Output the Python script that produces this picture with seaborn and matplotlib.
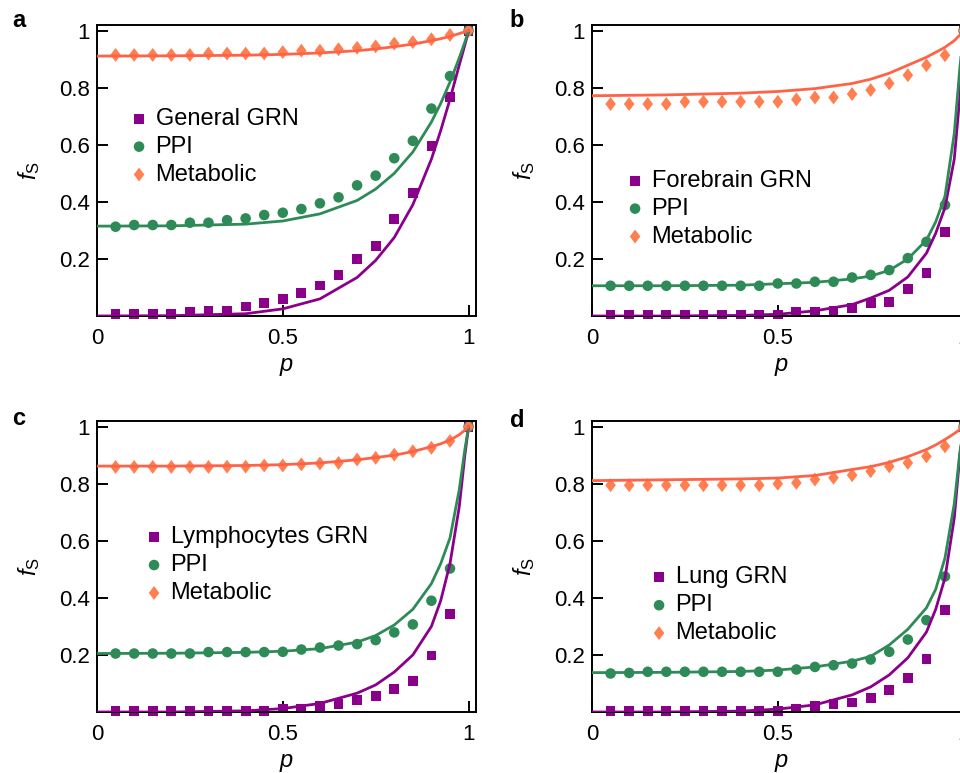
import matplotlib
matplotlib.use('Agg')
import matplotlib.pyplot as plt
import seaborn as sns

sns.set_style('ticks')
plt.rcParams['font.family'] = ['Liberation Sans', 'DejaVu Sans']
plt.rcParams['mathtext.fontset'] = 'custom'
plt.rcParams['mathtext.it'] = 'Liberation Sans:italic'
plt.rcParams['mathtext.rm'] = 'Liberation Sans'
for key in ['text.color', 'axes.labelcolor', 'xtick.color', 'ytick.color']:
    plt.rcParams[key] = 'black'

# simulation points p = 0.05 ... 1.0
p_pts = [0.05, 0.10, 0.15, 0.20, 0.25, 0.30, 0.35, 0.40, 0.45, 0.50,
         0.55, 0.60, 0.65, 0.70, 0.75, 0.80, 0.85, 0.90, 0.95, 1.00]
# theory curves
p_line = [0, 0.2, 0.4, 0.5, 0.6, 0.7, 0.75, 0.8, 0.85, 0.9, 0.925, 0.95, 0.975, 0.99, 1.0]

# panel a
a_grn = [0.006, 0.006, 0.006, 0.006, 0.013, 0.019, 0.019, 0.033, 0.047, 0.06,
         0.08, 0.107, 0.143, 0.199, 0.245, 0.341, 0.432, 0.596, 0.769, 1.0]
a_ppi = [0.313, 0.319, 0.319, 0.319, 0.327, 0.327, 0.336, 0.342, 0.354, 0.362,
         0.375, 0.395, 0.416, 0.458, 0.492, 0.553, 0.614, 0.727, 0.841, 1.0]
a_met = [0.915, 0.915, 0.915, 0.915, 0.915, 0.92, 0.92, 0.92, 0.92, 0.925,
         0.93, 0.93, 0.935, 0.94, 0.945, 0.955, 0.96, 0.97, 0.985, 1.0]
a_grn_line = [0.0, 0.001, 0.008, 0.025, 0.06, 0.135, 0.195, 0.275, 0.39, 0.55, 0.65, 0.76, 0.88, 0.95, 1.0]
a_ppi_line = [0.315, 0.316, 0.322, 0.333, 0.358, 0.405, 0.445, 0.5, 0.575, 0.68, 0.745, 0.82, 0.905, 0.96, 1.0]
a_met_line = [0.911, 0.912, 0.914, 0.917, 0.922, 0.93, 0.936, 0.944, 0.953, 0.965, 0.972, 0.98, 0.99, 0.996, 1.0]

# panel b
b_grn = [0.005, 0.005, 0.005, 0.005, 0.005, 0.005, 0.005, 0.005, 0.005, 0.005,
         0.013, 0.013, 0.019, 0.027, 0.045, 0.05, 0.094, 0.15, 0.293, 1.0]
b_ppi = [0.106, 0.106, 0.106, 0.106, 0.106, 0.106, 0.106, 0.106, 0.106, 0.114,
         0.114, 0.12, 0.12, 0.135, 0.144, 0.161, 0.203, 0.26, 0.389, 1.0]
b_met = [0.743, 0.743, 0.743, 0.743, 0.751, 0.751, 0.751, 0.751, 0.751, 0.751,
         0.759, 0.766, 0.766, 0.778, 0.792, 0.815, 0.844, 0.879, 0.914, 1.0]
b_grn_line = [0.0, 0.0, 0.002, 0.006, 0.018, 0.04, 0.063, 0.09, 0.137, 0.22, 0.29, 0.38, 0.55, 0.77, 1.0]
b_ppi_line = [0.106, 0.106, 0.108, 0.113, 0.118, 0.13, 0.14, 0.16, 0.2, 0.266, 0.33, 0.42, 0.64, 0.87, 1.0]
b_met_line = [0.772, 0.775, 0.781, 0.787, 0.797, 0.815, 0.83, 0.851, 0.879, 0.907, 0.924, 0.942, 0.965, 0.985, 1.0]

# panel c
c_grn = [0.004, 0.004, 0.004, 0.004, 0.004, 0.004, 0.004, 0.004, 0.004, 0.012,
         0.012, 0.02, 0.029, 0.041, 0.056, 0.082, 0.109, 0.198, 0.343, 1.0]
c_ppi = [0.205, 0.205, 0.205, 0.205, 0.205, 0.21, 0.21, 0.21, 0.21, 0.211,
         0.219, 0.226, 0.233, 0.238, 0.252, 0.279, 0.307, 0.39, 0.503, 1.0]
c_met = [0.859, 0.859, 0.859, 0.859, 0.859, 0.859, 0.86, 0.86, 0.864, 0.864,
         0.868, 0.871, 0.873, 0.885, 0.891, 0.902, 0.914, 0.926, 0.95, 1.0]
c_grn_line = [0.0, 0.0, 0.004, 0.012, 0.03, 0.066, 0.095, 0.14, 0.2, 0.3, 0.39, 0.52, 0.72, 0.9, 1.0]
c_ppi_line = [0.205, 0.206, 0.209, 0.213, 0.222, 0.245, 0.268, 0.305, 0.36, 0.45, 0.52, 0.61, 0.78, 0.92, 1.0]
c_met_line = [0.862, 0.862, 0.864, 0.867, 0.873, 0.884, 0.892, 0.9, 0.913, 0.93, 0.94, 0.953, 0.972, 0.988, 1.0]

# panel d
d_grn = [0.004, 0.004, 0.004, 0.004, 0.004, 0.004, 0.004, 0.004, 0.004, 0.004,
         0.012, 0.02, 0.029, 0.033, 0.049, 0.078, 0.119, 0.187, 0.358, 1.0]
d_ppi = [0.135, 0.137, 0.141, 0.141, 0.141, 0.141, 0.141, 0.141, 0.141, 0.141,
         0.149, 0.158, 0.164, 0.17, 0.184, 0.211, 0.254, 0.322, 0.475, 1.0]
d_met = [0.795, 0.795, 0.795, 0.795, 0.795, 0.795, 0.795, 0.795, 0.795, 0.8,
         0.803, 0.815, 0.821, 0.83, 0.844, 0.861, 0.873, 0.896, 0.931, 1.0]
d_grn_line = [0.0, 0.0, 0.003, 0.01, 0.025, 0.06, 0.088, 0.13, 0.19, 0.28, 0.36, 0.47, 0.68, 0.9, 1.0]
d_ppi_line = [0.138, 0.139, 0.142, 0.147, 0.158, 0.178, 0.195, 0.235, 0.29, 0.365, 0.43, 0.54, 0.73, 0.91, 1.0]
d_met_line = [0.811, 0.814, 0.817, 0.82, 0.829, 0.85, 0.86, 0.875, 0.895, 0.92, 0.936, 0.955, 0.976, 0.99, 1.0]

grn_labels = ['General GRN', 'Forebrain GRN', 'Lymphocytes GRN', 'Lung GRN']
panel_letters = ['a', 'b', 'c', 'd']

purple = '#8B008B'
green = '#2E8B57'
coral = '#FF7F50'
coral_line = '#FF6347'

# a wider diamond than matplotlib's thin 'd'
diamond = [(-0.38, 0), (0, 0.5), (0.38, 0), (0, -0.5)]

fig = plt.figure(figsize=(9.6, 7.73), dpi=100)

# axes boxes (the right column runs past the figure edge like the source)
W, H = 379 / 960, 291 / 773
boxes = [(97 / 960, 1 - 316 / 773), (592 / 960, 1 - 316 / 773),
         (97 / 960, 1 - 712 / 773), (592 / 960, 1 - 712 / 773)]
legend_anchor = [(0.086, 0.715), (0.0887, 0.502), (0.1256, 0.638), (0.152, 0.5)]
letter_pos = [(0.0125, 0.965), (0.531, 0.965), (0.0125, 0.450), (0.531, 0.4476)]

panels = [
    (a_grn, a_ppi, a_met, a_grn_line, a_ppi_line, a_met_line),
    (b_grn, b_ppi, b_met, b_grn_line, b_ppi_line, b_met_line),
    (c_grn, c_ppi, c_met, c_grn_line, c_ppi_line, c_met_line),
    (d_grn, d_ppi, d_met, d_grn_line, d_ppi_line, d_met_line),
]

for i, (grn, ppi, met, grn_l, ppi_l, met_l) in enumerate(panels):
    ax = fig.add_axes([boxes[i][0], boxes[i][1], W, H])

    sns.scatterplot(x=p_pts, y=grn, marker='s', s=50, color=purple, edgecolor='none',
                    label=grn_labels[i], ax=ax, clip_on=False, zorder=2)
    sns.scatterplot(x=p_pts, y=ppi, marker='o', s=58, color=green, edgecolor='none',
                    label='PPI', ax=ax, clip_on=False, zorder=2)
    sns.scatterplot(x=p_pts, y=met, marker=diamond, s=100, color=coral, edgecolor='none',
                    label='Metabolic', ax=ax, clip_on=False, zorder=2)

    sns.lineplot(x=p_line, y=grn_l, color=purple, lw=2, ax=ax, legend=False, zorder=3)
    sns.lineplot(x=p_line, y=ppi_l, color=green, lw=2, ax=ax, legend=False, zorder=3)
    sns.lineplot(x=p_line, y=met_l, color=coral_line, lw=2, ax=ax, legend=False, zorder=3)

    ax.set_xlim(0, 1.02)
    ax.set_ylim(0, 1.02)
    ax.set_xticks([0, 0.5, 1])
    ax.set_xticklabels(['0', '0.5', '1'])
    ax.set_yticks([0.2, 0.4, 0.6, 0.8, 1])
    ax.set_yticklabels(['0.2', '0.4', '0.6', '0.8', '1'])
    ax.tick_params(direction='in', length=8, width=1.4, labelsize=16)
    ax.tick_params(axis='x', pad=9)
    ax.tick_params(axis='y', pad=5)
    for sp in ax.spines.values():
        sp.set_linewidth(1.4)
        sp.set_color('black')

    ax.set_xlabel('$p$', fontsize=17)
    ax.set_ylabel('$f_\\mathrm{S}$', fontsize=17)
    ax.xaxis.set_label_coords(0.5, -0.138)
    ax.yaxis.set_label_coords(-0.145, 0.5)

    ax.legend(loc='upper left', bbox_to_anchor=legend_anchor[i], frameon=False,
              fontsize=17, borderpad=0, borderaxespad=0, handlelength=0.8,
              handletextpad=0.3, labelspacing=0.25, scatterpoints=1)

    fig.text(letter_pos[i][0], letter_pos[i][1], panel_letters[i], fontsize=17,
             fontweight='bold', va='baseline')

plt.savefig('out.png', dpi=100)
plt.close()
